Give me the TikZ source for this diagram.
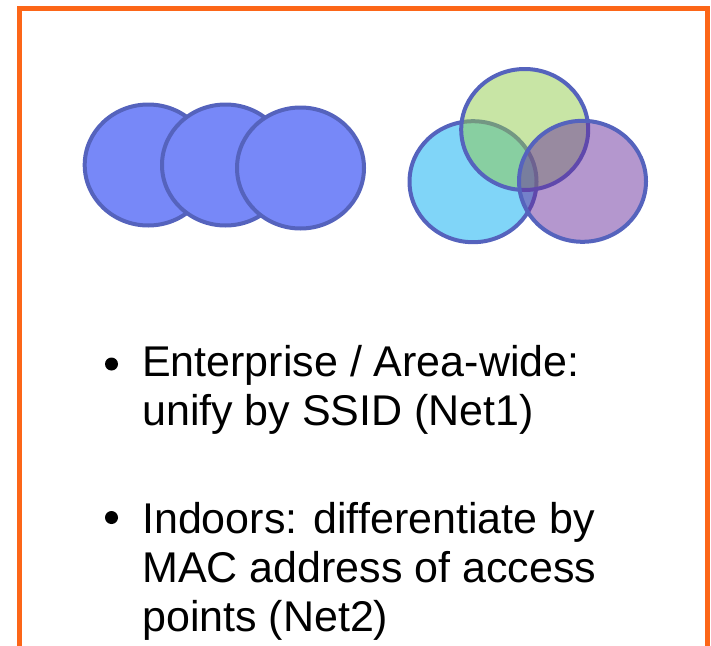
\documentclass[tikz,border=0pt]{standalone}
\usepackage{fontspec}
\setmainfont{Liberation Sans}
\usetikzlibrary{shapes.geometric}
\definecolor{frameorange}{RGB}{252,102,24}
\definecolor{edgeblue}{RGB}{85,99,189}
\definecolor{cellblue}{RGB}{119,136,248}
\definecolor{skyblue}{RGB}{128,213,248}
\definecolor{leafgreen}{RGB}{145,203,75}
\definecolor{plum}{RGB}{105,47,157}
\begin{document}
\begin{tikzpicture}[x=1pt,y=-1pt,
  cell/.style={ellipse, draw=edgeblue, line width=4pt, minimum width=127pt, minimum height=121pt, inner sep=0pt},
  bul/.style={circle, fill=black, inner sep=0pt, minimum size=13pt},
  itemtext/.style={anchor=base west, inner sep=0pt, align=left, font=\fontsize{43}{49}\selectfont}]
\useasboundingbox (0,0) rectangle (711,645);
\draw[frameorange, line width=5pt] (19.8,690) -- (19.8,8) -- (707.5,8) -- (707.5,690);
% unified cells
\node[cell, fill=cellblue] (c1) at (148.2,165) {};
\node[cell, fill=cellblue] (c2) at (225.5,165) {};
\node[cell, fill=cellblue] (c3) at (300.5,168) {};
% differentiated cells
\node[cell, fill=skyblue] (v1) at (473,181.7) {};
\node[cell, fill=leafgreen, fill opacity=0.5] (v2) at (524.7,129.5) {};
\node[cell, fill=plum, fill opacity=0.5] (v3) at (582.5,181.3) {};
% bullets
\node[bul] (b1) at (111.5,364) {};
\node[itemtext] (t1) at (142,425) {Enterprise / Area-wide:\\unify by SSID (Net1)};
\node[bul] (b2) at (111.5,517.5) {};
\node[itemtext] (t2) at (142,631) {Indoors: differentiate by\\MAC address of access\\points (Net2)};
\end{tikzpicture}
\end{document}
